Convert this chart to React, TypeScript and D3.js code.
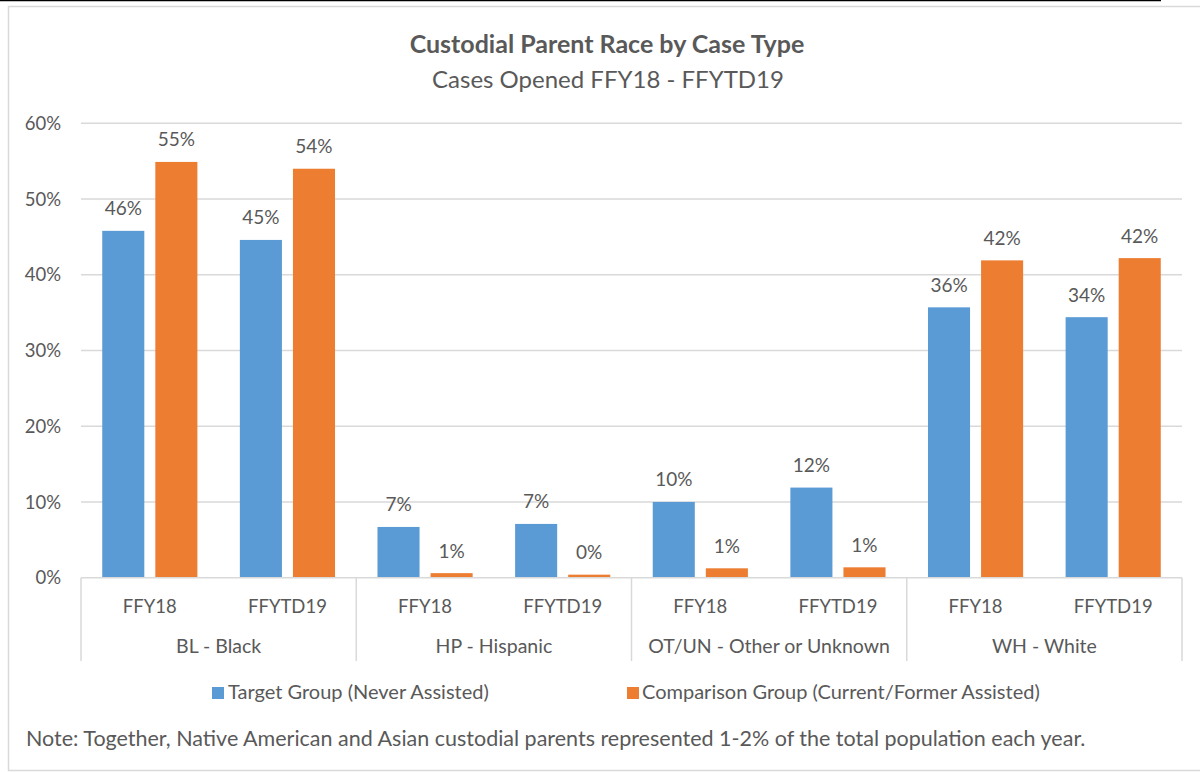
import React from "react";
import * as d3 from "d3";

// Race groups, each split into two fiscal-year periods
const groups = ["BL - Black", "HP - Hispanic", "OT/UN - Other or Unknown", "WH - White"];
const periods = ["FFY18", "FFYTD19"];
const seriesNames = ["Target Group (Never Assisted)", "Comparison Group (Current/Former Assisted)"];

// Share of cases (fraction), ordered group by group, period by period
const targetValues = [0.458, 0.446, 0.067, 0.071, 0.100, 0.119, 0.357, 0.344];
const comparisonValues = [0.549, 0.540, 0.006, 0.004, 0.0124, 0.0137, 0.419, 0.422];

const yTicks = [0, 0.1, 0.2, 0.3, 0.4, 0.5, 0.6];

const W = 1200;
const H = 772;
const FONT = "Lato, 'Open Sans', sans-serif";
const TEXT = "#595959";
const GRID = "#d9d9d9";
const COLORS = ["#5b9bd5", "#ed7d31"];

export default function App() {
  const plotLeft = 81;
  const plotRight = 1182;
  const plotTop = 123.3;
  const plotBottom = 577.7;

  const y = d3.scaleLinear().domain([0, 0.6]).range([plotBottom, plotTop]);

  const gx = d3.scaleBand<string>().domain(groups).range([plotLeft, plotRight]).padding(0);
  const px = d3.scaleBand<string>().domain(periods).range([0, gx.bandwidth()]).padding(0);
  const sx = d3
    .scaleBand<number>()
    .domain([0, 1])
    .range([0, px.bandwidth()])
    .paddingInner(0.2075)
    .paddingOuter(0.4);

  const seriesValues = [targetValues, comparisonValues];
  const pct = d3.format(".0%");

  const bars: React.ReactNode[] = [];
  const labels: React.ReactNode[] = [];
  groups.forEach((g, gi) => {
    periods.forEach((p, pi) => {
      const idx = gi * periods.length + pi;
      seriesValues.forEach((vals, si) => {
        const v = vals[idx];
        const x0 = (gx(g) ?? 0) + (px(p) ?? 0) + (sx(si) ?? 0);
        const bw = sx.bandwidth();
        bars.push(
          <rect
            key={`b-${idx}-${si}`}
            x={x0}
            y={y(v)}
            width={bw}
            height={y(0) - y(v)}
            fill={COLORS[si]}
          />
        );
        labels.push(
          <text
            key={`l-${idx}-${si}`}
            x={x0 + bw / 2}
            y={y(v) - 15.5}
            textAnchor="middle"
            fontSize={19}
            fill={TEXT}
          >
            {pct(v)}
          </text>
        );
      });
    });
  });

  const separators = d3.range(groups.length + 1).map((i) =>
    i < groups.length ? gx(groups[i]) ?? 0 : plotRight
  );

  return (
    <svg
      width={W}
      height={H}
      viewBox={`0 0 ${W} ${H}`}
      style={{ position: "absolute", left: 0, top: 0, background: "#fff" }}
      fontFamily={FONT}
    >
      <rect x={0} y={0} width={W} height={H} fill="#fff" />
      {/* outer frame */}
      <rect x={8.5} y={6.5} width={W} height={764} fill="none" stroke={GRID} strokeWidth={1.5} />
      <line x1={0} x2={1161} y1={0.5} y2={0.5} stroke="#000" strokeWidth={1.5} />

      {/* titles */}
      <text x={607} y={53} textAnchor="middle" fontSize={25} fontWeight="bold" fill={TEXT}>
        Custodial Parent Race by Case Type
      </text>
      <text x={608} y={88} textAnchor="middle" fontSize={24} fill={TEXT}>
        Cases Opened FFY18 - FFYTD19
      </text>

      {/* gridlines and y tick labels */}
      {yTicks.map((t) => (
        <g key={`t-${t}`}>
          {t > 0 && (
            <line x1={plotLeft} x2={plotRight} y1={y(t)} y2={y(t)} stroke={GRID} strokeWidth={1.5} />
          )}
          <text x={61} y={y(t)} dy="0.36em" textAnchor="end" fontSize={18.5} fill={TEXT}>
            {pct(t)}
          </text>
        </g>
      ))}

      {bars}
      {labels}

      {/* category axis */}
      <line x1={plotLeft} x2={plotRight} y1={plotBottom} y2={plotBottom} stroke={GRID} strokeWidth={1.5} />
      {separators.map((sxPos, i) => (
        <line key={`s-${i}`} x1={sxPos} x2={sxPos} y1={plotBottom} y2={661} stroke={GRID} strokeWidth={1.5} />
      ))}
      {groups.map((g) =>
        periods.map((p) => (
          <text
            key={`p-${g}-${p}`}
            x={(gx(g) ?? 0) + (px(p) ?? 0) + px.bandwidth() / 2}
            y={613}
            textAnchor="middle"
            fontSize={18.5}
            fill={TEXT}
          >
            {p}
          </text>
        ))
      )}
      {groups.map((g) => (
        <text
          key={`g-${g}`}
          x={(gx(g) ?? 0) + gx.bandwidth() / 2}
          y={653}
          textAnchor="middle"
          fontSize={19.5}
          fill={TEXT}
        >
          {g}
        </text>
      ))}

      {/* legend */}
      <rect x={212} y={687} width={12} height={12} fill={COLORS[0]} />
      <text x={228} y={699} fontSize={20} fill={TEXT}>
        {seriesNames[0]}
      </text>
      <rect x={627} y={687} width={12} height={12} fill={COLORS[1]} />
      <text x={642} y={699} fontSize={20} fill={TEXT}>
        {seriesNames[1]}
      </text>

      {/* note */}
      <text x={26} y={746} fontSize={21.5} fill={TEXT}>
        Note: Together, Native American and Asian custodial parents represented 1-2% of the total population each year.
      </text>
    </svg>
  );
}
